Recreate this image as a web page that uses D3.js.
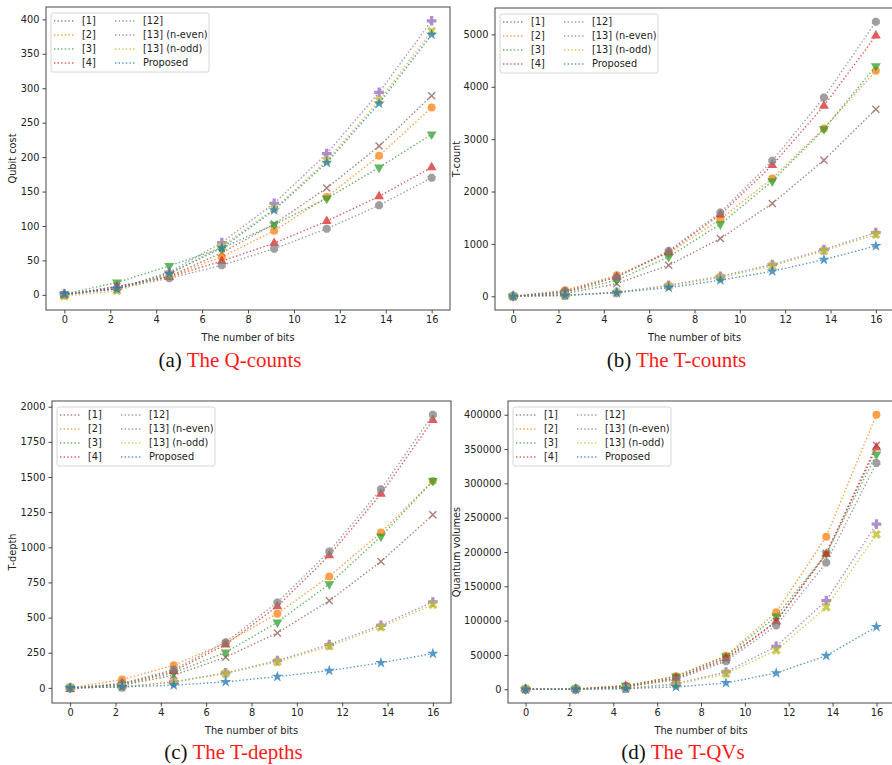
<!DOCTYPE html>
<html>
<head>
<meta charset="utf-8">
<script src="https://cdn.jsdelivr.net/npm/d3@7"></script>
<style>
body{margin:0;background:#fff}
text{font-family:"DejaVu Sans",sans-serif;fill:#222}
</style>
</head>
<body>
<svg id="fig" width="892" height="765"></svg>
<script>
var bits = [0, 2.29, 4.57, 6.86, 9.14, 11.43, 13.71, 16]
var names = ["[1]","[2]","[3]","[4]","[12]","[13] (n-even)","[13] (n-odd)","Proposed"]
var colors = ["#8c564b","#ff7f0e","#2ca02c","#d62728","#7f7f7f","#9467bd","#bcbd22","#1f77b4"]
var markers = ["x","o","v","^","8","P","X","*"]

// one row per series, same order as names
var qubitCost = [
  [0, 12, 27, 61, 103, 155, 216, 289],
  [0, 9, 27, 55, 93, 142, 202, 272],
  [1, 18, 42, 68, 102, 140, 185, 233],
  [0, 12, 26, 49, 75, 107, 143, 185],
  [0, 9, 24, 43, 67, 96, 130, 170],
  [1, 9, 33, 76, 133, 205, 294, 398],
  [-2, 6, 30, 71, 125, 195, 282, 383],
  [1, 9, 31, 68, 123, 192, 278, 378]
]
var tCount = [
  [0, 51, 242, 592, 1102, 1771, 2599, 3573],
  [0, 115, 401, 828, 1471, 2248, 3204, 4305],
  [0, 76, 306, 752, 1376, 2197, 3191, 4395],
  [0, 83, 369, 847, 1560, 2503, 3637, 4974],
  [0, 96, 369, 866, 1599, 2586, 3796, 5242],
  [0, 19, 76, 210, 382, 605, 892, 1216],
  [0, 13, 70, 197, 357, 580, 866, 1178],
  [0, 19, 70, 166, 306, 478, 700, 962]
]
var tDepth = [
  [0, 19, 90, 218, 391, 620, 899, 1231],
  [0, 59, 161, 320, 528, 793, 1105, 1472],
  [0, 24, 107, 253, 466, 738, 1077, 1472],
  [-10, 31, 118, 308, 580, 942, 1380, 1905],
  [0, 31, 130, 324, 608, 970, 1413, 1943],
  [0, 7, 43, 107, 194, 308, 445, 611],
  [0, 7, 40, 102, 185, 296, 431, 592],
  [0, 7, 19, 43, 80, 123, 178, 244]
]
var tQV = [
  [0, 300, 3400, 15500, 43100, 98800, 198100, 355500],
  [0, 500, 5300, 18900, 48900, 112400, 222300, 400000],
  [0, 400, 5300, 18900, 47900, 106100, 197100, 342400],
  [0, 300, 4400, 16500, 45500, 98800, 197100, 352100],
  [0, 300, 3400, 14000, 40700, 93000, 184500, 329800],
  [0, 100, 1500, 8200, 25200, 62500, 129300, 240700],
  [0, 100, 1000, 6800, 22800, 56700, 119600, 225700],
  [0, 100, 1000, 3400, 9200, 23700, 48900, 91000]
]
var xTicks = [0, 2, 4, 6, 8, 10, 12, 14, 16]
var qTicks = [0, 50, 100, 150, 200, 250, 300, 350, 400]
var tcTicks = [0, 1000, 2000, 3000, 4000, 5000]
var tdTicks = [0, 250, 500, 750, 1000, 1250, 1500, 1750, 2000]
var qvTicks = [0, 50000, 100000, 150000, 200000, 250000, 300000, 350000, 400000]

var panels = [
  {data: qubitCost, ticks: qTicks, ylabel: "Qubit cost", tag: "(a)", title: "The Q-counts",
   left: 46, right: 450, top: 7, bottom: 310, ylx: 13, capY: 367},
  {data: tCount, ticks: tcTicks, ylabel: "T-count", tag: "(b)", title: "The T-counts",
   left: 495, right: 894, top: 8, bottom: 310, ylx: 457, capY: 367},
  {data: tDepth, ticks: tdTicks, ylabel: "T-depth", tag: "(c)", title: "The T-depths",
   left: 52, right: 451, top: 401, bottom: 703, ylx: 13, capY: 759},
  {data: tQV, ticks: qvTicks, ylabel: "Quantum volumes", tag: "(d)", title: "The T-QVs",
   left: 508, right: 894, top: 401, bottom: 703, ylx: 457, capY: 759}
]

var svg = d3.select("#fig")

function octagon(r){
  var pts = []
  for(var k=0;k<8;k++){
    var a = Math.PI/8 + k*Math.PI/4
    pts.push([r*Math.cos(a), r*Math.sin(a)])
  }
  return "M" + pts.join("L") + "Z"
}

function drawMarker(g, type, color, x, y){
  var s
  if(type=="x"){
    g.append("path").attr("d","M-3.5,-3.5L3.5,3.5M-3.5,3.5L3.5,-3.5")
      .attr("transform","translate("+x+","+y+")")
      .attr("stroke",color).attr("stroke-width",1.4).attr("fill","none")
    return
  }
  if(type=="o") s = d3.symbol(d3.symbolCircle, 50)()
  if(type=="v") s = d3.symbol(d3.symbolTriangle, 42)()
  if(type=="^") s = d3.symbol(d3.symbolTriangle, 42)()
  if(type=="8") s = octagon(4.3)
  if(type=="P") s = d3.symbol(d3.symbolCross, 52)()
  if(type=="X") s = d3.symbol(d3.symbolCross, 52)()
  if(type=="*") s = d3.symbol(d3.symbolStar, 40)()
  var rot = type=="v" ? 180 : (type=="X" ? 45 : 0)
  g.append("path").attr("d",s)
    .attr("transform","translate("+x+","+y+") rotate("+rot+")")
    .attr("fill",color).attr("stroke","none")
}

panels.forEach(function(p){
  var xPad = 0.05*16
  var x = d3.scaleLinear().domain([0-xPad, 16+xPad]).range([p.left, p.right])
  var all = d3.merge(p.data)
  var mn = d3.min(all), mx = d3.max(all), pad = (mx-mn)*0.05
  var y = d3.scaleLinear().domain([mn-pad, mx+pad]).range([p.bottom, p.top])

  var g = svg.append("g")

  // series
  p.data.forEach(function(vals, i){
    var sg = g.append("g").attr("opacity", 0.75)
    var line = d3.line().x(function(d,j){return x(bits[j])}).y(function(d){return y(d)})
    sg.append("path").datum(vals).attr("d", line)
      .attr("fill","none").attr("stroke",colors[i]).attr("stroke-width",1.4)
      .attr("stroke-dasharray","1.4,2.2")
    vals.forEach(function(v,j){
      drawMarker(sg, markers[i], colors[i], x(bits[j]), y(v))
    })
  })

  // frame
  g.append("rect").attr("x",p.left).attr("y",p.top)
    .attr("width",p.right-p.left).attr("height",p.bottom-p.top)
    .attr("fill","none").attr("stroke","#333").attr("stroke-width",0.9)

  // axes
  var xa = g.append("g").attr("transform","translate(0,"+p.bottom+")")
    .call(d3.axisBottom(x).tickValues(xTicks).tickSize(3.5).tickPadding(3).tickFormat(d3.format("d")))
  var ya = g.append("g").attr("transform","translate("+p.left+",0)")
    .call(d3.axisLeft(y).tickValues(p.ticks).tickSize(3.5).tickPadding(3).tickFormat(d3.format("d")))
  ;[xa, ya].forEach(function(a){
    a.select(".domain").remove()
    a.selectAll("line").attr("stroke","#333").attr("stroke-width",0.9)
    a.selectAll("text").style("font-size","9.8px").attr("fill","#222")
  })

  g.append("text").text("The number of bits")
    .attr("x",(p.left+p.right)/2).attr("y",p.bottom+31)
    .attr("text-anchor","middle").style("font-size","9.8px")
  g.append("text").text(p.ylabel)
    .attr("transform","translate("+p.ylx+","+(p.top+p.bottom)/2+") rotate(-90)")
    .attr("text-anchor","middle").style("font-size","9.8px").attr("dy","0.35em")

  // legend
  var lx = p.left+5, ly = p.top+6
  var lg = g.append("g")
  lg.append("rect").attr("x",lx).attr("y",ly).attr("width",158).attr("height",59)
    .attr("rx",2).attr("fill","#fff").attr("fill-opacity",0.8)
    .attr("stroke","#ccc").attr("stroke-width",0.8)
  names.forEach(function(n,i){
    var col = Math.floor(i/4), row = i%4
    var cx = lx + (col==0 ? 3 : 64)
    var cy = ly + 8 + row*14
    lg.append("line").attr("x1",cx).attr("x2",cx+21).attr("y1",cy).attr("y2",cy)
      .attr("stroke",colors[i]).attr("stroke-width",1.4).attr("stroke-dasharray","1.4,2.2")
      .attr("opacity",0.75)
    lg.append("text").text(n).attr("x",cx+28).attr("y",cy).attr("dy","0.35em")
      .style("font-size","9.8px")
  })

  // caption
  var cap = svg.append("text").attr("x",(p.left+p.right)/2 - 18).attr("y",p.capY)
    .attr("text-anchor","middle")
    .style("font-family","'Liberation Serif',serif").style("font-size","21px")
  cap.append("tspan").text(p.tag+" ").style("fill","#111")
  cap.append("tspan").text(p.title).style("fill","#ff1a1a")
})
</script>
</body>
</html>
